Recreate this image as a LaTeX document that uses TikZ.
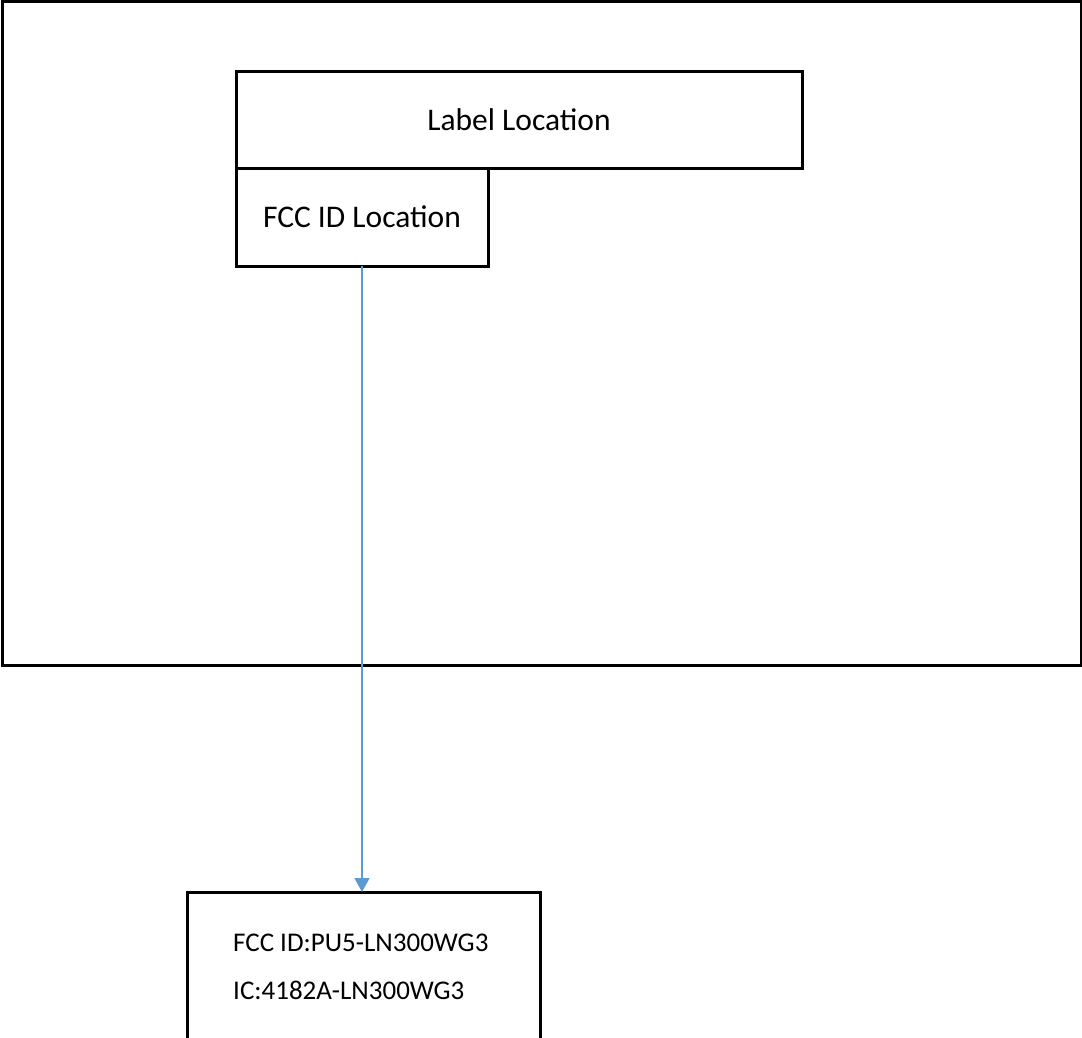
\documentclass[tikz,border=0pt]{standalone}
\usepackage{fontspec}
\setmainfont{Carlito}
\usetikzlibrary{arrows.meta}
\definecolor{arrowblue}{HTML}{5B9BD5}
\tikzset{
  box/.style={draw=black, line width=3pt, fill=none, inner sep=0pt, outer sep=0pt},
  bigtext/.style={font=\fontsize{31.5}{36}\selectfont},
  smalltext/.style={font=\fontsize{27}{30}\selectfont, inner sep=0pt, anchor=base west},
  link/.style={draw=arrowblue, line width=1.5pt, -{Triangle[width=15pt,length=14pt]}}
}
\begin{document}
\begin{tikzpicture}[x=1pt,y=-1pt]
\useasboundingbox (0,0) rectangle (1082,1037);
\clip (0,0) rectangle (1082,1037);
\node[box, minimum width=1079pt, minimum height=664pt] (outer) at (541.5,333) {};
\node[box, minimum width=566pt, minimum height=97pt, bigtext] (label) at (519,119.5) {\raisebox{-2.5pt}{Label Location}};
\node[box, minimum width=252pt, minimum height=98pt, bigtext] (fcc) at (362,217) {\raisebox{-2.5pt}{FCC ID Location}};
\node[box, minimum width=353pt, minimum height=168pt] (bot) at (363.5,976) {};
\node[smalltext] (t1) at (233,951) {FCC ID:PU5-LN300WG3};
\node[smalltext] (t2) at (233,999) {IC:4182A-LN300WG3};
\draw[link] (fcc.south) -- (fcc.south |- bot.north);
\end{tikzpicture}
\end{document}
